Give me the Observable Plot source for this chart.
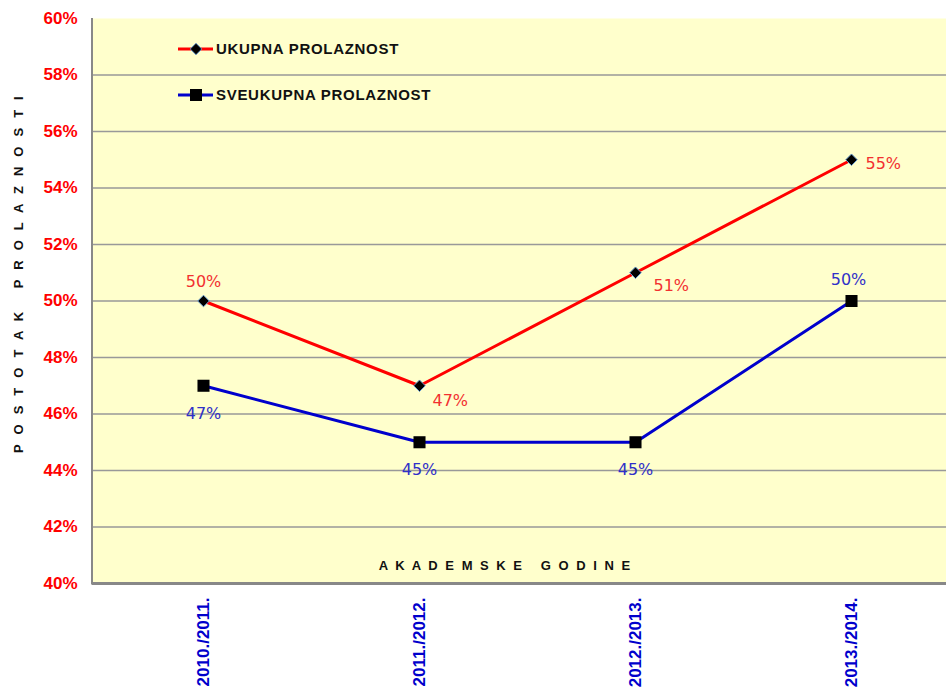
<!DOCTYPE html>
<html><head><meta charset="utf-8">
<script src="https://cdn.jsdelivr.net/npm/d3@7"></script>
<script src="https://cdn.jsdelivr.net/npm/@observablehq/plot@0.6"></script>
<style>body{margin:0;background:#fff;overflow:hidden}</style>
</head><body><div id="chart"></div>
<script>
const years = ["2010./2011.", "2011./2012.", "2012./2013.", "2013./2014."];
const ukupna = [50, 47, 51, 55];
const sveukupna = [47, 45, 45, 50];
const seriesNames = ["UKUPNA PROLAZNOST", "SVEUKUPNA PROLAZNOST"];
const yTicks = [40, 42, 44, 46, 48, 50, 52, 54, 56, 58, 60];
const yTitle = "P O S T O T A K   P R O L A Z N O S T I";
const xTitle = "A K A D E M S K E   G O D I N E";

const red = years.map((year, i) => ({year, value: ukupna[i], i}));
const blue = years.map((year, i) => ({year, value: sveukupna[i], i}));

const RED = "#FF0000", BLUE = "#0000CC", LRED = "#F23030", LBLUE = "#3030C8";
const labelFont = "DejaVu Sans, Verdana, sans-serif";
const rDiamond = 5.2, rSquare = 6.8;

const lbl = (data, filter, opts) => Plot.text(data, {
  filter, x: "year", y: "value", text: d => d.value + "%",
  fontSize: 16, fontFamily: labelFont, ...opts
});

const legend = (index, scales, values, dims) => {
  const g = d3.create("svg:g");
  const items = [
    {name: seriesNames[0], color: RED, sym: d3.symbolDiamond2, r: rDiamond, stroke: "#6699CC"},
    {name: seriesNames[1], color: BLUE, sym: d3.symbolSquare, r: rSquare, stroke: "none"}
  ];
  items.forEach((it, k) => {
    const y = 49 + k * 46;
    g.append("line").attr("x1", 178).attr("x2", 213).attr("y1", y).attr("y2", y)
      .attr("stroke", it.color).attr("stroke-width", 3);
    g.append("path").attr("transform", `translate(196,${y})`)
      .attr("d", d3.symbol(it.sym, Math.PI * it.r * it.r)())
      .attr("fill", "black").attr("stroke", it.stroke).attr("stroke-width", 1);
    g.append("text").attr("x", 216).attr("y", y).attr("dy", "0.35em")
      .attr("text-anchor", "start")
      .attr("font-family", "Liberation Sans, Arial, sans-serif")
      .attr("font-weight", "bold").attr("font-size", 15).attr("letter-spacing", "0.7px")
      .attr("fill", "#111").text(it.name);
  });
  return g.node();
};

const leftLine = (index, scales, values, dims) => {
  const g = d3.create("svg:g");
  g.append("line").attr("x1", dims.marginLeft).attr("x2", dims.marginLeft)
    .attr("y1", dims.marginTop).attr("y2", dims.height - dims.marginBottom + 1.5)
    .attr("stroke", "#888").attr("stroke-width", 2);
  return g.node();
};

const chart = Plot.plot({
  width: 946, height: 688,
  marginLeft: 92, marginRight: 0, marginTop: 18, marginBottom: 105,
  style: {background: "transparent", fontFamily: "Liberation Sans, Arial, sans-serif", overflow: "visible"},
  x: {type: "point", domain: years, range: [202, 851], padding: 0},
  y: {domain: [40, 60]},
  marks: [
    Plot.frame({fill: "#FFFFCC", stroke: null}),
    Plot.ruleY(yTicks.filter(t => t > 40 && t < 60), {stroke: "#999", strokeWidth: 1.5}),
    Plot.ruleY([40], {stroke: "#888", strokeWidth: 3}),
    leftLine,
    Plot.axisY(yTicks, {tickSize: 0, tickPadding: 15, tickFormat: d => d + "%", fill: RED,
      fontWeight: "bold", fontSize: 17, label: null}),
    Plot.axisX({tickSize: 0, tickRotate: -90, tickPadding: 14, fill: BLUE,
      fontWeight: "bold", fontSize: 17, label: null}),
    Plot.line(red, {x: "year", y: "value", stroke: RED, strokeWidth: 3}),
    Plot.line(blue, {x: "year", y: "value", stroke: BLUE, strokeWidth: 3}),
    Plot.dot(red, {x: "year", y: "value", symbol: "diamond2", r: rDiamond, fill: "black", stroke: "#6699CC", strokeWidth: 1}),
    Plot.dot(blue, {x: "year", y: "value", symbol: "square", r: rSquare, fill: "black", stroke: null}),
    lbl(red, d => d.i === 0, {fill: LRED, dy: -19}),
    lbl(red, d => d.i === 1, {fill: LRED, textAnchor: "start", dx: 13, dy: 15}),
    lbl(red, d => d.i === 2, {fill: LRED, textAnchor: "start", dx: 18, dy: 13}),
    lbl(red, d => d.i === 3, {fill: LRED, textAnchor: "start", dx: 14, dy: 4}),
    lbl(blue, d => d.i < 3, {fill: LBLUE, dy: 28}),
    lbl(blue, d => d.i === 3, {fill: LBLUE, dx: -3, dy: -21}),
    Plot.text([xTitle], {frameAnchor: "bottom", textAnchor: "middle", lineAnchor: "middle", dx: -14, dy: -18,
      fontWeight: "bold", fontSize: 13, fill: "#111"}),
    Plot.text([yTitle], {frameAnchor: "left", textAnchor: "middle", lineAnchor: "middle", rotate: -90, dx: -74, dy: -28,
      fontWeight: "bold", fontSize: 13, fill: "#111"}),
    legend
  ]
});

d3.select(chart).selectAll("text").each(function() {
  if (this.textContent === xTitle) d3.select(this).attr("letter-spacing", "2px");
  if (this.textContent === yTitle) d3.select(this).attr("letter-spacing", "3.2px");
});

document.getElementById("chart").append(chart);
</script>
</body></html>
